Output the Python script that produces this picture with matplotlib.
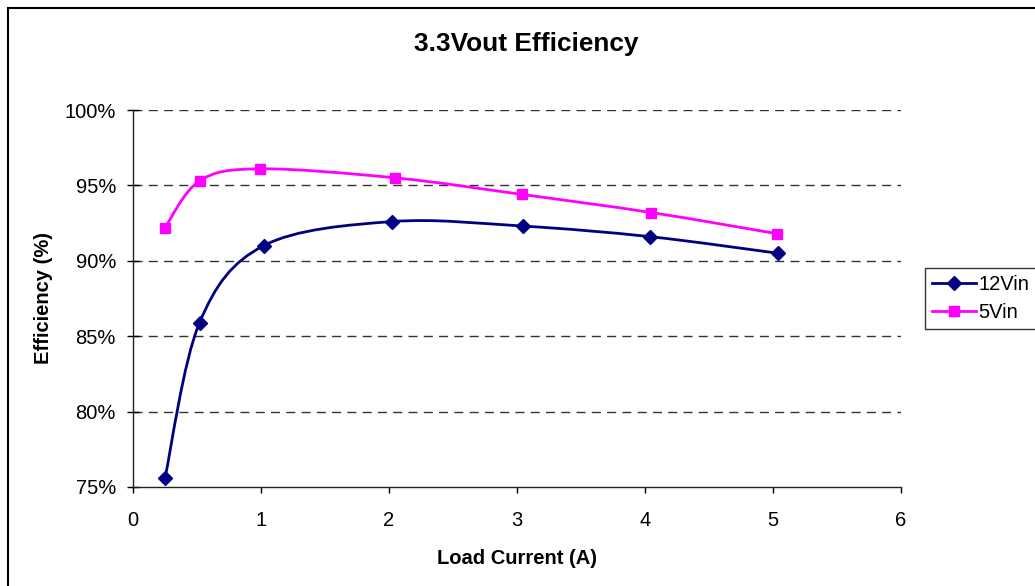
import matplotlib
matplotlib.use("Agg")
import matplotlib.pyplot as plt
from matplotlib.path import Path
from matplotlib.patches import PathPatch, Rectangle
from matplotlib.lines import Line2D

plt.rcParams['font.family'] = ['Liberation Sans', 'DejaVu Sans']

# data
current_12v = [0.25, 0.52, 1.02, 2.02, 3.05, 4.04, 5.04]
eff_12v = [75.6, 85.9, 91.0, 92.6, 92.3, 91.6, 90.5]
current_5v = [0.25, 0.52, 0.99, 2.05, 3.04, 4.05, 5.03]
eff_5v = [92.2, 95.3, 96.1, 95.5, 94.4, 93.2, 91.8]
y_ticks = [75, 80, 85, 90, 95, 100]
x_ticks = [0, 1, 2, 3, 4, 5, 6]


def smooth_path(xs, ys):
    # excel-like smoothed line: catmull-rom segments as cubic beziers
    pts = list(zip(xs, ys))
    n = len(pts)
    verts = [pts[0]]
    codes = [Path.MOVETO]
    for i in range(n - 1):
        p0 = pts[max(i - 1, 0)]
        p1 = pts[i]
        p2 = pts[i + 1]
        p3 = pts[min(i + 2, n - 1)]
        c1 = (p1[0] + (p2[0] - p0[0]) / 6, p1[1] + (p2[1] - p0[1]) / 6)
        c2 = (p2[0] - (p3[0] - p1[0]) / 6, p2[1] - (p3[1] - p1[1]) / 6)
        verts += [c1, c2, p2]
        codes += [Path.CURVE4] * 3
    return Path(verts, codes)


fig = plt.figure(figsize=(10.35, 5.86), dpi=100)
ax = fig.add_axes([133 / 1035, 1 - 487 / 586, 768 / 1035, 377 / 586])

series = [
    (current_12v, eff_12v, "#000080", "D", 7, "12Vin"),
    (current_5v, eff_5v, "#FF00FF", "s", 7.5, "5Vin"),
]
handles = []
for xs, ys, col, mk, ms, label in series:
    ax.add_patch(PathPatch(smooth_path(xs, ys), fill=False, edgecolor=col, lw=2, zorder=3))
    ax.plot(xs, ys, linestyle="none", marker=mk, ms=ms, color=col, zorder=4)
    handles.append(Line2D([], [], color=col, lw=2, marker=mk, ms=ms, label=label))

ax.set_xlim(0, 6)
ax.set_ylim(75, 100)
ax.set_xticks(x_ticks)
ax.set_yticks(y_ticks)
ax.set_yticklabels([f"{t}%" for t in y_ticks])
for t in y_ticks[1:]:
    ax.axhline(t, color="#333333", lw=1, linestyle=(0, (6.5, 4.5)), zorder=1)

for side in ("top", "right"):
    ax.spines[side].set_visible(False)
for side in ("left", "bottom"):
    ax.spines[side].set_color("#222222")
    ax.spines[side].set_linewidth(1)
ax.tick_params(axis="y", direction="inout", length=9, width=1, labelsize=14.5, pad=7.8)
ax.tick_params(axis="x", direction="out", length=4.5, width=1, labelsize=14.5, pad=13)

ax.set_xlabel("Load Current (A)", fontsize=14.5, fontweight="bold", labelpad=13.5)
ax.set_ylabel("Efficiency (%)", fontsize=14.5, fontweight="bold", labelpad=8.5)
fig.text(526 / 1035, 1 - 43.5 / 586, "3.3Vout Efficiency", fontsize=18.9,
         fontweight="bold", ha="center", va="center")

leg = fig.legend(handles=handles, loc="upper left",
                 bbox_to_anchor=(925 / 1035, 1 - 268 / 586),
                 fontsize=14.5, frameon=True, fancybox=False, edgecolor="black",
                 borderpad=0.35, handlelength=2.2, handletextpad=0.1,
                 labelspacing=0.45, borderaxespad=0)
leg.get_frame().set_linewidth(1)

fig.patches.append(Rectangle((7.5 / 1035, -0.1), 1.2, 1.1 - 8 / 586,
                             transform=fig.transFigure, fill=False,
                             edgecolor="black", lw=1.5))

fig.savefig("out.png", dpi=100)
